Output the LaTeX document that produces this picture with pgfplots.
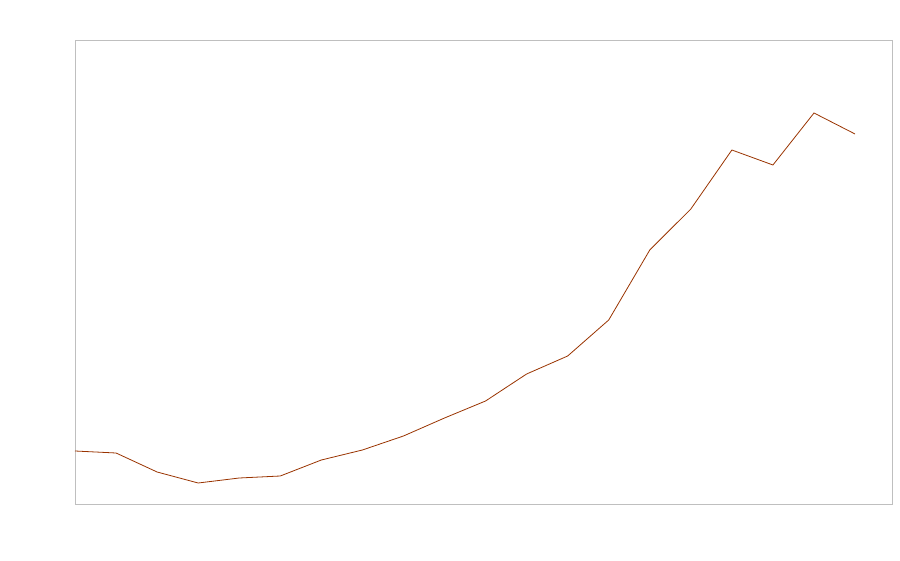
\documentclass[border=0pt]{standalone}
\usepackage{pgfplots}
\pgfplotsset{compat=1.18}
\definecolor{linec}{HTML}{993300}
\definecolor{framec}{HTML}{BFBFBF}
\begin{document}
\begin{tikzpicture}[x=1pt,y=1pt]
\path[use as bounding box] (-75,-56) rectangle (825,504);
\begin{axis}[
  at={(0,0)}, anchor=south west,
  scale only axis, width=817pt, height=464pt,
  xmin=0, xmax=19.9, ymin=0, ymax=464,
  xtick=\empty, ytick=\empty,
  axis line style={framec, line width=0.8pt},
  clip=false,
]
\addplot[linec, line width=0.8pt, mark=none] coordinates {
(0,53) (1,51) (2,32) (3,21) (4,26) (5,28) (6,44) (7,54) (8,68) (9,86)
(10,103) (11,130) (12,148) (13,184) (14,254) (15,295) (16,354) (17,339) (18,391) (19,370)
};
\end{axis}
\end{tikzpicture}
\end{document}
